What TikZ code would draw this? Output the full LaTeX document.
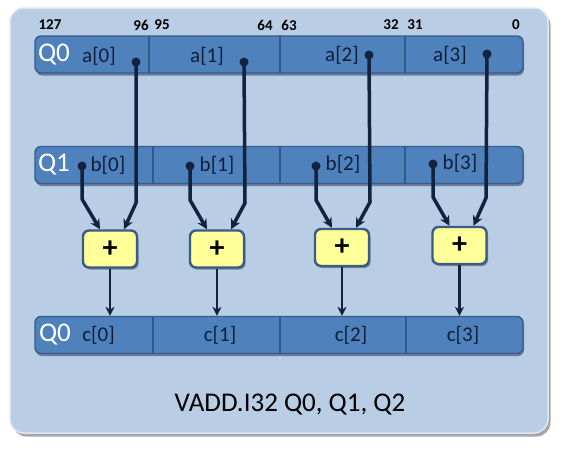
\documentclass[tikz,border=0pt]{standalone}
\usepackage{fontspec}
\setmainfont{Carlito}
\usetikzlibrary{arrows.meta,shadows}
\definecolor{panelfill}{HTML}{B9CDE5}
\definecolor{paneledge}{HTML}{DDE7F3}
\definecolor{regfill}{HTML}{4F81BD}
\definecolor{regedge}{HTML}{385D8A}
\definecolor{divider}{HTML}{2F5A8C}
\definecolor{plusfill}{HTML}{FFFF99}
\definecolor{plusedge}{HTML}{3B5A85}
\definecolor{wire}{HTML}{12233F}
\definecolor{lbl}{HTML}{0F1E38}
\begin{document}
\begin{tikzpicture}[x=1pt,y=-1pt,
  panelbox/.style={draw=paneledge,line width=1.5pt,fill=panelfill,rounded corners=14pt,
    drop shadow={shadow xshift=2.5pt,shadow yshift=-3.5pt,fill=black,opacity=.35}},
  reg/.style={draw=regedge,line width=1.4pt,fill=regfill,rounded corners=6pt,
    minimum width=488pt,minimum height=37pt,inner sep=0pt,
    drop shadow={shadow xshift=1pt,shadow yshift=-2.5pt,fill=black!80!blue,opacity=.4}},
  divline/.style={draw=divider,line width=2.8pt},
  plusbox/.style={draw=plusedge,line width=2.4pt,fill=plusfill,rounded corners=6pt,
    minimum width=54pt,minimum height=37pt,inner sep=0pt,
    font=\bfseries\fontsize{30}{32}\selectfont,
    drop shadow={shadow xshift=1.5pt,shadow yshift=-2pt,fill=black,opacity=.35}},
  qlbl/.style={text=white,font=\fontsize{27}{30}\selectfont,inner sep=0pt},
  elbl/.style={text=lbl,font=\fontsize{21}{24}\selectfont,inner sep=0pt},
  bitlbl/.style={text=black,font=\bfseries\fontsize{15}{17}\selectfont,inner sep=0pt},
  dot/.style={circle,fill=wire,inner sep=0pt,minimum size=9pt},
  conn/.style={draw=wire,line width=3.5pt,line join=round,-{Stealth[length=10pt,width=10pt]}},
  outconn/.style={draw=wire,line width=2.6pt,-{Stealth[length=9pt,width=9pt]}}
]
\useasboundingbox (0,0) rectangle (561,450);
\node[panelbox,minimum width=538pt,minimum height=425pt,inner sep=0pt] (panel) at (279,220.5) {};

% register rows
\node[reg] (ra) at (279,54.5) {};
\node[reg] (rb) at (279,165) {};
\node[reg] (rc) at (279,335) {};

% dividers
\draw[divline] (149,36) -- (149,73);
\draw[divline] (280,36) -- (280,73);
\draw[divline] (405,36) -- (405,73);
\draw[divline] (153,147) -- (153,183);
\draw[divline] (280,147) -- (280,183);
\draw[divline] (405,147) -- (405,183);
\draw[divline] (153,317) -- (153,353);
\draw[divline] (280,317) -- (280,353);
\draw[divline] (406,317) -- (406,353);

% bit numbers
\node[bitlbl] (n127) at (50,25) {127};
\node[bitlbl] (n96) at (141,25) {96};
\node[bitlbl] (n95) at (162,25) {95};
\node[bitlbl] (n64) at (265,25) {64};
\node[bitlbl] (n63) at (289,25) {63};
\node[bitlbl] (n32) at (391,25) {32};
\node[bitlbl] (n31) at (415,25) {31};
\node[bitlbl] (n0) at (516,25) {0};

% row labels
\node[qlbl] (qa) at (54,55) {Q0};
\node[qlbl] (qb) at (54,165) {Q1};
\node[qlbl] (qc) at (55,335) {Q0};

\node[elbl] (la0) at (99,56) {a[0]};
\node[elbl] (la1) at (207,56) {a[1]};
\node[elbl] (la2) at (342,55) {a[2]};
\node[elbl] (la3) at (450,55) {a[3]};
\node[elbl] (lb0) at (108,165) {b[0]};
\node[elbl] (lb1) at (217,165) {b[1]};
\node[elbl] (lb2) at (343,164) {b[2]};
\node[elbl] (lb3) at (460,163) {b[3]};
\node[elbl] (lc0) at (98.5,335) {c[0]};
\node[elbl] (lc1) at (220,335) {c[1]};
\node[elbl] (lc2) at (351,335) {c[2]};
\node[elbl] (lc3) at (463,335) {c[3]};

% plus boxes
\node[plusbox] (p1) at (110,249) {+};
\node[plusbox] (p2) at (217,249) {+};
\node[plusbox] (p3) at (342,247.5) {+};
\node[plusbox] (p4) at (459.5,245.5) {+};

% dots
\node[dot] (da0) at (136,62) {};
\node[dot] (da1) at (244,62) {};
\node[dot] (da2) at (369,55) {};
\node[dot] (da3) at (487,54) {};
\node[dot] (db0) at (82,166) {};
\node[dot] (db1) at (190,166) {};
\node[dot] (db2) at (316,166) {};
\node[dot] (db3) at (433,164) {};

% bend points
\coordinate (ka0) at (136,203);
\coordinate (ka1) at (245,203);
\coordinate (ka2) at (370,202);
\coordinate (ka3) at (486,198);
\coordinate (kb0) at (82,199);
\coordinate (kb1) at (190,200);
\coordinate (kb2) at (316,200);
\coordinate (kb3) at (433,197);

% connectors
\draw[conn] (da0.center) -- (ka0) -- ([xshift=14pt]p1.north);
\draw[conn] (db0.center) -- (kb0) -- ([xshift=-10pt]p1.north);
\draw[conn] (da1.center) -- (ka1) -- ([xshift=14pt]p2.north);
\draw[conn] (db1.center) -- (kb1) -- ([xshift=-10pt]p2.north);
\draw[conn] (da2.center) -- (ka2) -- ([xshift=14pt]p3.north);
\draw[conn] (db2.center) -- (kb2) -- ([xshift=-10pt]p3.north);
\draw[conn] (da3.center) -- (ka3) -- ([xshift=14pt]p4.north);
\draw[conn] (db3.center) -- (kb3) -- ([xshift=-10pt]p4.north);

% outputs
\draw[outconn] (p1.south) -- (p1.south |- rc.north);
\draw[outconn] (p2.south) -- (p2.south |- rc.north);
\draw[outconn] (p3.south) -- (p3.south |- rc.north);
\draw[outconn] (p4.south) -- (p4.south |- rc.north);

\node[text=black,font=\fontsize{27}{30}\selectfont,inner sep=0pt] (title) at (290,405) {VADD.I32 Q0, Q1, Q2};
\end{tikzpicture}
\end{document}
